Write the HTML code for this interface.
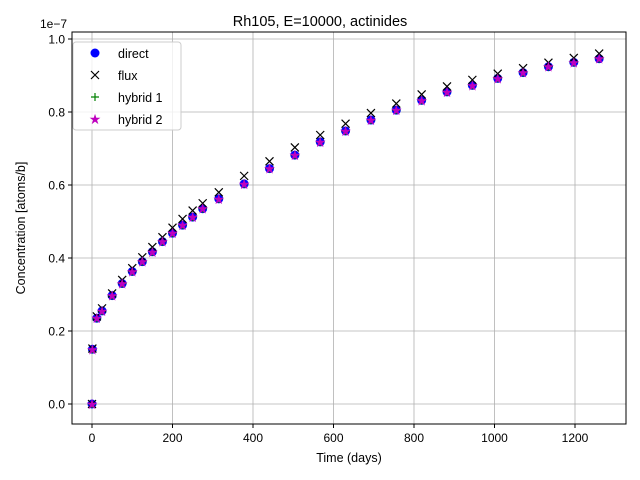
<!DOCTYPE html>
<html><head><meta charset="utf-8"><style>body{margin:0;background:#fff}svg{display:block;font-family:"Liberation Sans","DejaVu Sans",sans-serif}</style></head>
<body>
<svg id="chart" width="640" height="480">
<rect x="0" y="0" width="640" height="480" fill="#fff"/>
<g id="grid"></g>
<g id="marks"></g>
<rect x="72" y="32" width="554" height="392" fill="none" stroke="#000" stroke-width="1"/>
<g id="ticks" font-size="12"></g>
<text x="320" y="26" text-anchor="middle" font-size="14.5">Rh105, E=10000, actinides</text>
<text x="349" y="462" text-anchor="middle" font-size="12.5">Time (days)</text>
<text transform="translate(25,228) rotate(-90)" text-anchor="middle" font-size="12.5">Concentration [atoms/b]</text>
<text x="40" y="28" font-size="12">1e−7</text>
<g>
<rect x="73" y="42" width="108" height="88" rx="3" fill="#fff" fill-opacity="0.8" stroke="#ccc"/>
<circle cx="95" cy="53" r="4.5" fill="#0000ff"/>
<text x="118" y="58" font-size="12.5">direct</text>
<path d="M91,71l8,8M99,71l-8,8" stroke="#000" stroke-width="1.2"/>
<text x="118" y="80" font-size="12.5">flux</text>
<path d="M91,97h8M95,93v8" stroke="#008000" stroke-width="1.2"/>
<text x="118" y="102" font-size="12.5">hybrid 1</text>
<text x="95" y="124" font-size="14" fill="#bf00bf" text-anchor="middle">★</text>
<text x="118" y="124" font-size="12.5">hybrid 2</text>
</g>
</svg>
<script>
const times=[0,1,12,25,50,75,100,125,150,175,200,225,250,275,315,378,441,504,567,630,693,756,819,882,945,1008,1071,1134,1197,1260];
const directVals=[0,0.15,0.235,0.255,0.297,0.33,0.363,0.39,0.417,0.445,0.468,0.49,0.512,0.535,0.562,0.603,0.645,0.682,0.718,0.748,0.778,0.805,0.832,0.855,0.873,0.892,0.908,0.924,0.936,0.946];
const fluxVals=[0,0.152,0.24,0.262,0.303,0.34,0.372,0.402,0.43,0.457,0.483,0.507,0.53,0.55,0.58,0.625,0.665,0.703,0.737,0.768,0.797,0.823,0.848,0.87,0.888,0.905,0.92,0.935,0.948,0.96];
const hybrid1Vals=directVals.slice();
const hybrid2Vals=directVals.slice();
const xTicks=[0,200,400,600,800,1000,1200];
const yTicks=[0,0.2,0.4,0.6,0.8,1.0];
const yTickLabels=["0.0","0.2","0.4","0.6","0.8","1.0"];
const NS="http://www.w3.org/2000/svg";
const xs=v=>92+v*0.4025;
const ys=v=>404-v*365;
function mk(t,a,p){const e=document.createElementNS(NS,t);for(const k in a)e.setAttribute(k,a[k]);p.appendChild(e);return e;}
const grid=document.getElementById('grid'),ticks=document.getElementById('ticks'),marks=document.getElementById('marks');
xTicks.forEach(v=>{const x=xs(v);
const g=mk('line',{x1:x,x2:x,y1:32,y2:424,stroke:'#b0b0b0','stroke-width':0.8},grid);


mk('line',{x1:x,x2:x,y1:424,y2:428,stroke:'#000'},ticks);
const t=mk('text',{x:x,y:442,'text-anchor':'middle'},ticks);t.textContent=v;

});
yTicks.forEach((v,i)=>{const y=ys(v);
const g=mk('line',{x1:72,x2:626,y1:y,y2:y,stroke:'#b0b0b0','stroke-width':0.8},grid);


mk('line',{x1:68,x2:72,y1:y,y2:y,stroke:'#000'},ticks);
const t=mk('text',{x:65,y:y+4.5,'text-anchor':'end'},ticks);t.textContent=yTickLabels[i];

});
times.forEach((tv,i)=>{const x=xs(tv);
const c=mk('circle',{cx:x,cy:ys(directVals[i]),r:4.5,fill:'#0000ff'},marks);


const y=ys(fluxVals[i]);
const f=mk('path',{d:`M${x-4},${y-4}l8,8M${x+4},${y-4}l-8,8`,stroke:'#000','stroke-width':1.2},marks);


const y1=ys(hybrid1Vals[i]);
const h=mk('path',{d:`M${x-4},${y1}h8M${x},${y1-4}v8`,stroke:'#008000','stroke-width':1.2},marks);


const s=mk('text',{x:x,y:ys(hybrid2Vals[i])+5,'font-size':14,fill:'#bf00bf','text-anchor':'middle'},marks);s.textContent='★';

});
</script>
</body></html>
